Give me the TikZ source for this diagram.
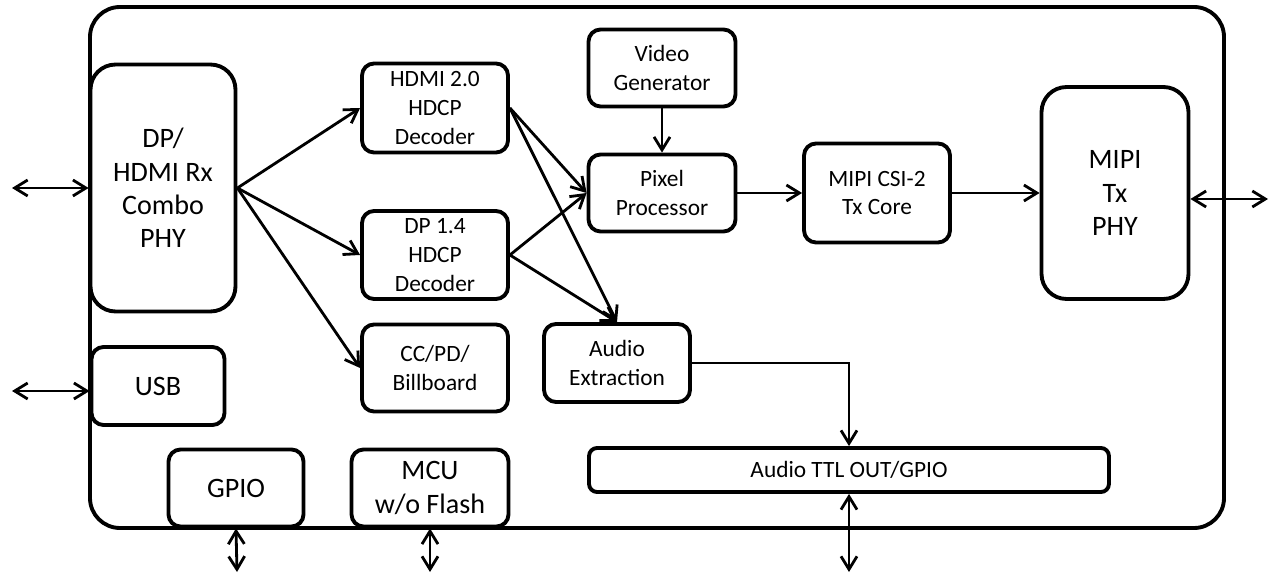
\documentclass[tikz,border=0pt]{standalone}
\usepackage{fontspec}
\setmainfont{Carlito}
\usetikzlibrary{arrows.meta,positioning}

\begin{document}
\begin{tikzpicture}[x=0.02cm, y=-0.02cm,
    block/.style={draw, line width=2.2pt, rounded corners=0.24cm, fill=white, align=center,
                  inner sep=0pt, font=\fontsize{13.3}{16.5}\selectfont},
    bigblock/.style={block, font=\fontsize{16}{19}\selectfont},
    link/.style={line width=1.6pt, -{Straight Barb[length=2.6mm,width=3.2mm]}},
    port/.style={line width=1.6pt, {Straight Barb[length=2.6mm,width=3.2mm]}-{Straight Barb[length=2.6mm,width=3.2mm]}}]
    \useasboundingbox (0,0) rectangle (1274,580);

    % Chip outline
    \draw[line width=2.2pt, rounded corners=0.6cm] (90,7) rectangle (1224,528);

    % Blocks
    \node[bigblock, rounded corners=0.5cm, minimum width=2.9cm, minimum height=4.94cm] (phy) at (163,188) {DP/\\HDMI Rx\\Combo\\PHY};
    \node[bigblock, minimum width=2.66cm, minimum height=1.56cm] (usb) at (158,386) {USB};
    \node[bigblock, minimum width=2.7cm, minimum height=1.54cm] (gpio) at (236,488) {GPIO};
    \node[bigblock, minimum width=3.14cm, minimum height=1.54cm] (mcu) at (430,488) {MCU\\w/o Flash};
    \node[block, minimum width=2.92cm, minimum height=1.78cm] (hdmi) at (435,108) {HDMI 2.0\\HDCP\\Decoder};
    \node[block, minimum width=2.92cm, minimum height=1.76cm] (dp) at (435,255) {DP 1.4\\HDCP\\Decoder};
    \node[block, minimum width=2.92cm, minimum height=1.74cm] (cc) at (435,368) {CC/PD/\\Billboard};
    \node[block, minimum width=2.92cm, minimum height=1.56cm] (audio) at (617,363) {Audio\\Extraction};
    \node[block, minimum width=2.94cm, minimum height=1.54cm] (vgen) at (662,68) {Video\\Generator};
    \node[block, minimum width=2.94cm, minimum height=1.54cm] (pixel) at (662,193) {Pixel\\Processor};
    \node[block, minimum width=2.92cm, minimum height=1.98cm] (csi) at (877,193) {MIPI CSI-2\\Tx Core};
    \node[bigblock, rounded corners=0.5cm, minimum width=2.94cm, minimum height=4.24cm] (mipi) at (1115,193) {MIPI\\Tx\\PHY};
    \node[block, rounded corners=0.16cm, minimum width=10.4cm, minimum height=0.88cm] (ttl) at (849,470) {Audio TTL OUT/GPIO};

    % External ports
    \coordinate (phyport) at (12,188);
    \coordinate (usbport) at (12,391);
    \coordinate (gpioport) at (237,572);
    \coordinate (mcuport) at (430,572);
    \coordinate (ttlport) at (849,572);
    \coordinate (mipiport) at (1268,199);
    \draw[port] (phyport) -- (phy.west);
    \draw[port] (usbport) -- (usbport -| usb.west);
    \draw[port] (gpio.south) -- (gpioport);
    \draw[port] (mcu.south) -- (mcuport);
    \draw[port] (ttl.south) -- (ttlport);
    \draw[port] (mipi.east |- mipiport) -- (mipiport);

    % Data paths
    \draw[link] (phy.east) -- (hdmi.west);
    \draw[link] (phy.east) -- (dp.west);
    \draw[link] (phy.east) -- (cc.west);
    \draw[link] (hdmi.east) -- (pixel.west);
    \draw[link] (hdmi.east) -- (audio.north);
    \draw[link] (dp.east) -- (pixel.west);
    \draw[link] (dp.east) -- (audio.north);
    \draw[link] (vgen) -- (pixel);
    \draw[link] (pixel) -- (csi);
    \draw[link] (csi) -- (mipi.west |- csi);
    \draw[link] (audio.east) -| (ttl.north);
\end{tikzpicture}
\end{document}
